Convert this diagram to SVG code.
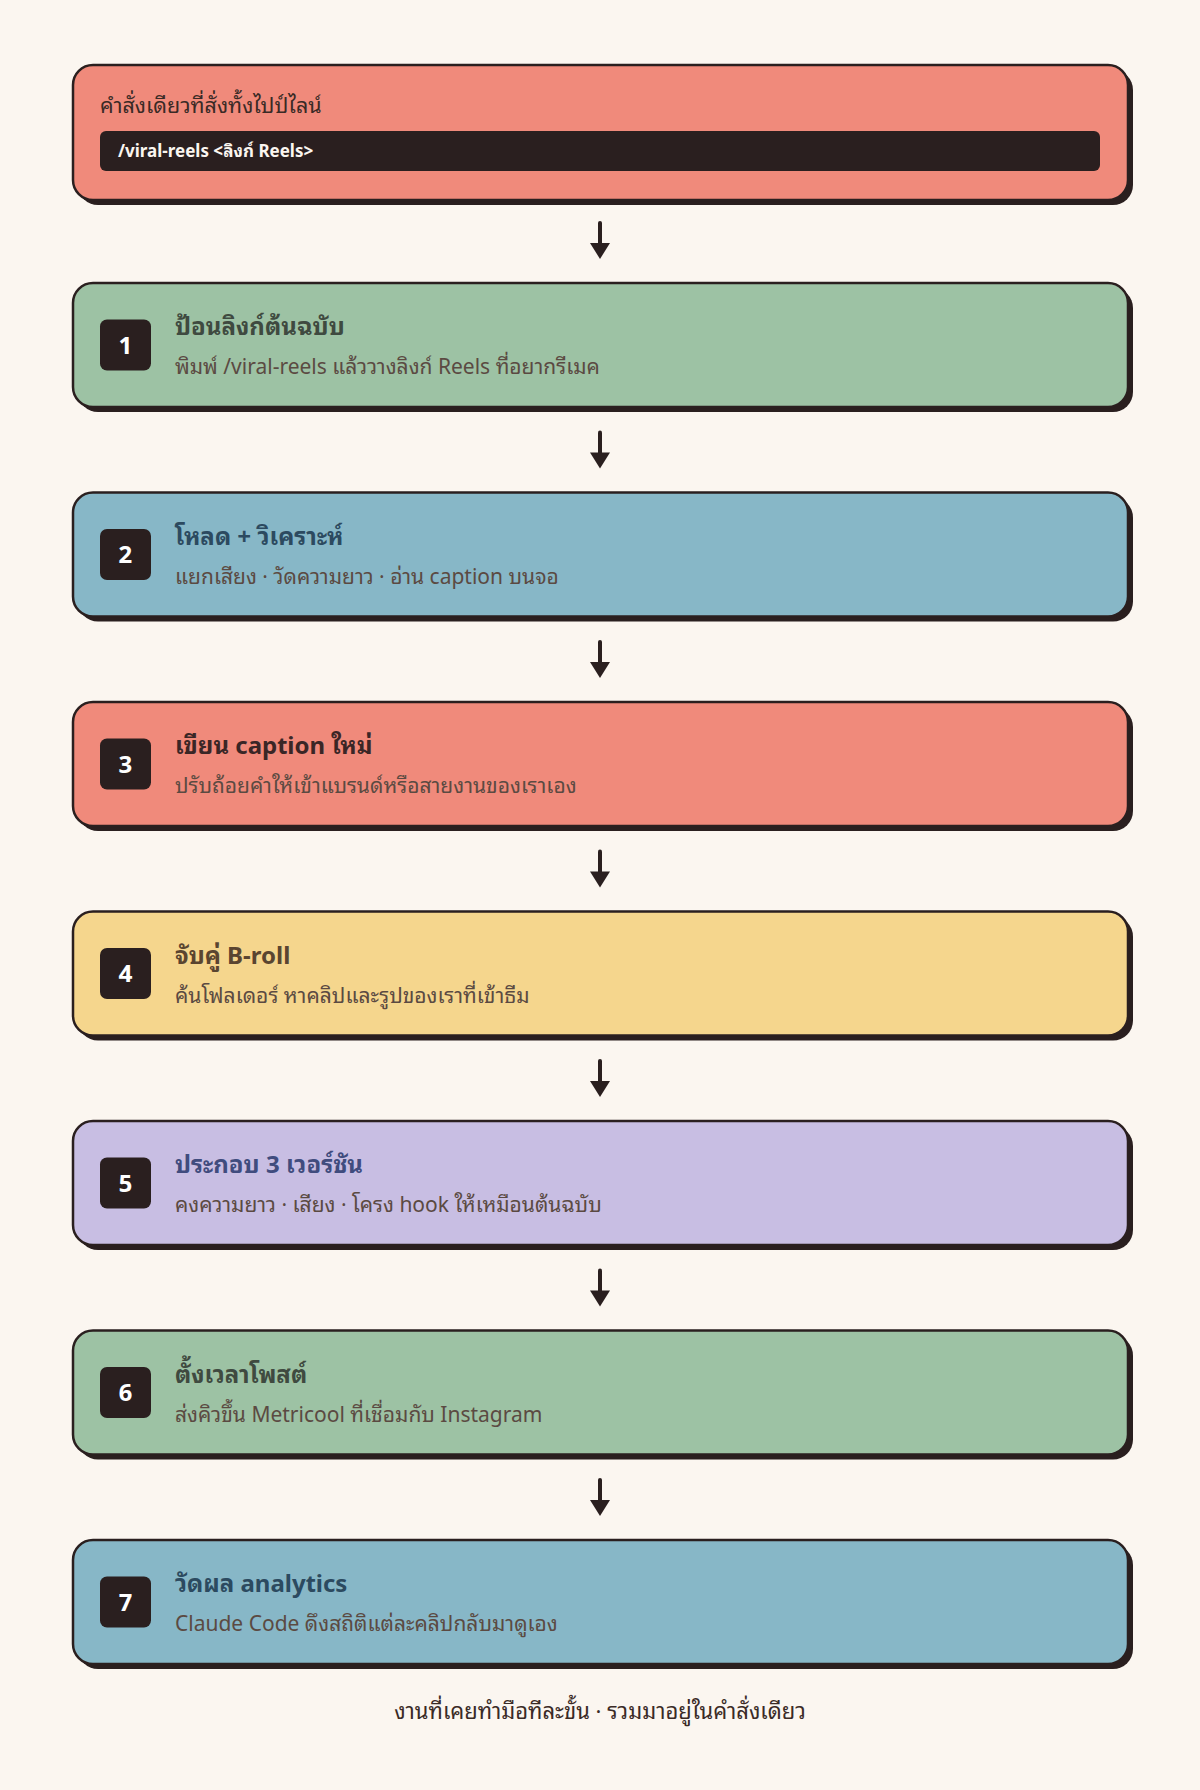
<svg xmlns="http://www.w3.org/2000/svg" width="1200" height="1790" viewBox="0 0 1200 1790">
<defs>
<style>
text{font-family:"Noto Sans Thai Looped","Noto Sans Thai","Noto Sans Thai UI","IBM Plex Sans Thai","Noto Sans","DejaVu Sans",sans-serif}
.shadow{fill:#2A1F1F}
.box{stroke:#2A1F1F;stroke-width:2.5}
.badge{fill:#2A1F1F}
.num{fill:#FFFFFF;font-size:24px;font-weight:700;text-anchor:middle}
.title{font-size:24px;font-weight:700}
.sub{font-size:21px;fill:#5B4A42}
.conn line{stroke:#2A1F1F;stroke-width:4;stroke-linecap:round}
.conn polygon{fill:#2A1F1F}
</style>
</defs>
<rect x="0" y="0" width="1200" height="1790" fill="#FBF6F0"/>

<g id="node-command">
<rect class="shadow" x="78" y="70" width="1055" height="135" rx="20"/>
<rect class="box" x="73" y="65" width="1055" height="135" rx="20" fill="#F08A7B"/>
<text x="100" y="113" font-size="21.5" fill="#3A2A26">คำสั่งเดียวที่สั่งทั้งไปป์ไลน์</text>
<rect x="100" y="131" width="1000" height="40" rx="6" fill="#2A1F1F"/>
<text x="118" y="157" font-size="17" font-weight="700" fill="#FBF6F0">/viral-reels &lt;ลิงก์ Reels&gt;</text>
</g>

<g id="node-step1">
<rect class="shadow" x="78" y="288" width="1055" height="124" rx="20"/>
<rect class="box" x="73" y="283" width="1055" height="124" rx="20" fill="#9DC2A4"/>
<rect class="badge" x="100" y="319.5" width="51" height="51" rx="7"/>
<text class="num" x="125.5" y="353.5">1</text>
<text class="title" x="175" y="335" fill="#3F4A40">ป้อนลิงก์ต้นฉบับ</text>
<text class="sub" x="175" y="374">พิมพ์ /viral-reels แล้ววางลิงก์ Reels ที่อยากรีเมค</text>
</g>

<g id="node-step2">
<rect class="shadow" x="78" y="497.5" width="1055" height="124" rx="20"/>
<rect class="box" x="73" y="492.5" width="1055" height="124" rx="20" fill="#87B7C7"/>
<rect class="badge" x="100" y="529" width="51" height="51" rx="7"/>
<text class="num" x="125.5" y="563">2</text>
<text class="title" x="175" y="544.5" fill="#2C4A60">โหลด + วิเคราะห์</text>
<text class="sub" x="175" y="583.5">แยกเสียง · วัดความยาว · อ่าน caption บนจอ</text>
</g>

<g id="node-step3">
<rect class="shadow" x="78" y="707" width="1055" height="124" rx="20"/>
<rect class="box" x="73" y="702" width="1055" height="124" rx="20" fill="#F08A7B"/>
<rect class="badge" x="100" y="738.5" width="51" height="51" rx="7"/>
<text class="num" x="125.5" y="772.5">3</text>
<text class="title" x="175" y="754" fill="#3A2626">เขียน caption ใหม่</text>
<text class="sub" x="175" y="793">ปรับถ้อยคำให้เข้าแบรนด์หรือสายงานของเราเอง</text>
</g>

<g id="node-step4">
<rect class="shadow" x="78" y="916.5" width="1055" height="124" rx="20"/>
<rect class="box" x="73" y="911.5" width="1055" height="124" rx="20" fill="#F5D68D"/>
<rect class="badge" x="100" y="948" width="51" height="51" rx="7"/>
<text class="num" x="125.5" y="982">4</text>
<text class="title" x="175" y="963.5" fill="#5A4530">จับคู่ B-roll</text>
<text class="sub" x="175" y="1002.5">ค้นโฟลเดอร์ หาคลิปและรูปของเราที่เข้าธีม</text>
</g>

<g id="node-step5">
<rect class="shadow" x="78" y="1126" width="1055" height="124" rx="20"/>
<rect class="box" x="73" y="1121" width="1055" height="124" rx="20" fill="#C8BEE3"/>
<rect class="badge" x="100" y="1157.5" width="51" height="51" rx="7"/>
<text class="num" x="125.5" y="1191.5">5</text>
<text class="title" x="175" y="1173" fill="#404C7E">ประกอบ 3 เวอร์ชัน</text>
<text class="sub" x="175" y="1212">คงความยาว · เสียง · โครง hook ให้เหมือนต้นฉบับ</text>
</g>

<g id="node-step6">
<rect class="shadow" x="78" y="1335.5" width="1055" height="124" rx="20"/>
<rect class="box" x="73" y="1330.5" width="1055" height="124" rx="20" fill="#9DC2A4"/>
<rect class="badge" x="100" y="1367" width="51" height="51" rx="7"/>
<text class="num" x="125.5" y="1401">6</text>
<text class="title" x="175" y="1382.5" fill="#3F4A40">ตั้งเวลาโพสต์</text>
<text class="sub" x="175" y="1421.5">ส่งคิวขึ้น Metricool ที่เชื่อมกับ Instagram</text>
</g>

<g id="node-step7">
<rect class="shadow" x="78" y="1545" width="1055" height="124" rx="20"/>
<rect class="box" x="73" y="1540" width="1055" height="124" rx="20" fill="#87B7C7"/>
<rect class="badge" x="100" y="1576.5" width="51" height="51" rx="7"/>
<text class="num" x="125.5" y="1610.5">7</text>
<text class="title" x="175" y="1592" fill="#2C4A60">วัดผล analytics</text>
<text class="sub" x="175" y="1631">Claude Code ดึงสถิติแต่ละคลิปกลับมาดูเอง</text>
</g>

<g id="connectors" class="conn">
<line x1="600" y1="223" x2="600" y2="244"/><polygon points="590,243 610,243 600,259"/>
<line x1="600" y1="432.5" x2="600" y2="453.5"/><polygon points="590,452.5 610,452.5 600,468.5"/>
<line x1="600" y1="642" x2="600" y2="663"/><polygon points="590,662 610,662 600,678"/>
<line x1="600" y1="851.5" x2="600" y2="872.5"/><polygon points="590,871.5 610,871.5 600,887.5"/>
<line x1="600" y1="1061" x2="600" y2="1082"/><polygon points="590,1081 610,1081 600,1097"/>
<line x1="600" y1="1270.5" x2="600" y2="1291.5"/><polygon points="590,1290.5 610,1290.5 600,1306.5"/>
<line x1="600" y1="1480" x2="600" y2="1501"/><polygon points="590,1500 610,1500 600,1516"/>
</g>

<text x="600" y="1719" font-size="22" fill="#3A2A26" text-anchor="middle">งานที่เคยทำมือทีละขั้น · รวมมาอยู่ในคำสั่งเดียว</text>
</svg>
